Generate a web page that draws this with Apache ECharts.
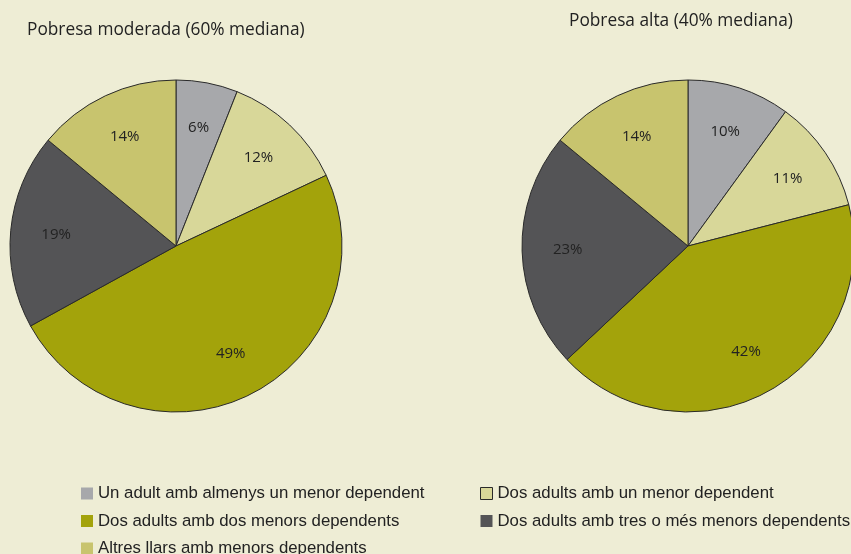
<!DOCTYPE html>
<html><head><meta charset="utf-8">
<script src="https://cdn.jsdelivr.net/npm/echarts@6/dist/echarts.min.js"></script>
<style>html,body{margin:0;padding:0;background:#eeedd5;}#c{width:851px;height:554px;}</style>
</head><body><div id="c"></div>
<script>
const categories = [
  'Un adult amb almenys un menor dependent',
  'Dos adults amb un menor dependent',
  'Dos adults amb dos menors dependents',
  'Dos adults amb tres o més menors dependents',
  'Altres llars amb menors dependents'
];
const moderada = [6, 12, 49, 19, 14];
const alta = [10, 11, 42, 23, 14];
const titles = ['Pobresa moderada (60% mediana)', 'Pobresa alta (40% mediana)'];
const colors = ['#a7a8ab', '#d8d799', '#a3a30b', '#545456', '#c8c46e'];

const centers = [[176, 246], [688, 246]];
const R = 166;
const k = 1.4;

function mk(vals) { return categories.map((n, i) => ({ name: n, value: vals[i] })); }
function layoutFor(c) {
  return p => {
    const lx = p.labelRect.x + p.labelRect.width / 2, ly = p.labelRect.y + p.labelRect.height / 2;
    return { x: c[0] + (lx - c[0]) * k, y: c[1] + (ly - c[1]) * k };
  };
}

const chart = echarts.init(document.getElementById('c'), null, { renderer: 'canvas' });
const seriesCommon = {
  type: 'pie', radius: R, startAngle: 90, clockwise: true, animation: false,
  itemStyle: { borderColor: '#2a2a2a', borderWidth: 1 },
  label: { show: true, position: 'inside', formatter: '{c}%', color: '#222', fontFamily: 'Open Sans', fontSize: 15 },
  labelLine: { show: false },
  emphasis: { disabled: true },
};
const legendText = { fontFamily: 'Liberation Sans', fontSize: 16.8, lineHeight: 16, color: '#222' };
chart.setOption({
  backgroundColor: '#eeedd5',
  color: colors,
  title: [
    { text: titles[0], left: 27, top: 22, padding: 0, textStyle: { fontFamily: 'Open Sans', fontWeight: 'normal', fontSize: 17.3, color: '#222' } },
    { text: titles[1], left: 569, top: 13, padding: 0, textStyle: { fontFamily: 'Open Sans', fontWeight: 'normal', fontSize: 17.3, color: '#222' } }
  ],
  legend: [
    { orient: 'vertical', left: 81, top: 485, height: 100, padding: 0, itemWidth: 12, itemHeight: 12, itemGap: 10.5, icon: 'rect',
      data: [categories[0], categories[2], categories[4]].map(n => ({ name: n, itemStyle: { borderWidth: 0 } })),
      textStyle: legendText },
    { orient: 'vertical', left: 480, top: 485, height: 100, padding: 0, itemWidth: 12, itemHeight: 12, itemGap: 10.5, icon: 'rect',
      data: [categories[1], categories[3]].map((n, i) => ({ name: n, itemStyle: { borderWidth: i === 0 ? 1 : 0, borderColor: '#2a2a2a' } })),
      textStyle: legendText }
  ],
  series: [
    Object.assign({}, seriesCommon, { center: centers[0], data: mk(moderada), labelLayout: layoutFor(centers[0]) }),
    Object.assign({}, seriesCommon, { center: centers[1], data: mk(alta), labelLayout: layoutFor(centers[1]) })
  ]
});
</script></body></html>
